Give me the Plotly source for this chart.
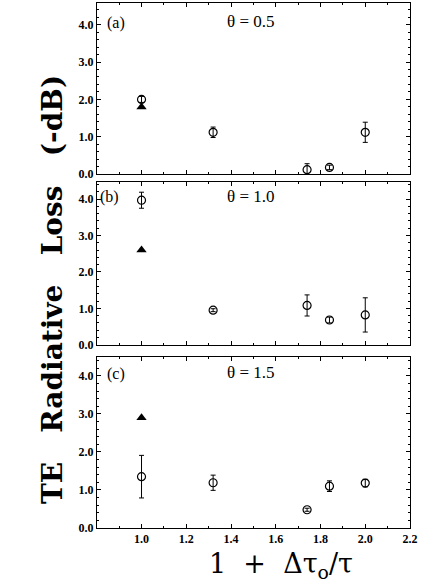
import plotly.graph_objects as go

# Data
x_vals = [1.0, 1.32, 1.74, 1.84, 2.0]
tri_x = [1.0]

a_y = [2.0, 1.12, 0.12, 0.18, 1.12]
a_err = [0.08, 0.14, 0.16, 0.06, 0.27]
a_tri = [1.8]

b_y = [3.97, 0.95, 1.08, 0.68, 0.82]
b_err = [0.22, 0.04, 0.29, 0.08, 0.47]
b_tri = [2.6]

c_y = [1.35, 1.19, 0.48, 1.1, 1.18]
c_err = [0.56, 0.2, 0.04, 0.14, 0.1]
c_tri = [2.9]

panel_labels = ["(a)", "(b)", "(c)"]
theta_labels = ["θ = 0.5", "θ = 1.0", "θ = 1.5"]

panels = [(a_y, a_err, a_tri), (b_y, b_err, b_tri), (c_y, c_err, c_tri)]
domains = [[0.674, 1.0], [0.349, 0.659], [0.0, 0.326]]
yranges = [[0, 4.58], [0, 4.47], [0, 4.5]]

fig = go.Figure()
serif = "Liberation Serif"
layout_axes = {}

for i, (ys, errs, tri) in enumerate(panels):
    n = i + 1
    xa = "x" if n == 1 else f"x{n}"
    ya = "y" if n == 1 else f"y{n}"
    fig.add_trace(go.Scatter(
        x=x_vals, y=ys, mode="markers", xaxis=xa, yaxis=ya,
        error_y=dict(type="data", array=errs, color="black", thickness=1, width=2.5),
        marker=dict(symbol="circle-open", size=8, color="black", line=dict(width=1.2, color="black")),
        showlegend=False))
    fig.add_trace(go.Scatter(
        x=tri_x, y=tri, mode="markers", xaxis=xa, yaxis=ya,
        marker=dict(symbol="triangle-up", size=9, color="black"),
        showlegend=False))
    axkw = dict(range=[0.801, 2.2], tickmode="linear", tick0=1.0, dtick=0.2,
                ticks="inside", ticklen=4, tickcolor="black", tickwidth=1,
                minor=dict(tickmode="linear", tick0=1.0, dtick=0.1, ticks="inside", ticklen=2,
                           tickcolor="black", tickwidth=1),
                showline=True, linecolor="black", linewidth=1, mirror="ticks",
                showgrid=False, zeroline=False,
                anchor=ya, domain=[0, 1],
                tickfont=dict(family=serif, size=12, color="black", weight="bold"),
                tickformat=".1f", showticklabels=(n == 3))
    yakw = dict(range=yranges[i], tickmode="linear", tick0=0, dtick=1, tickformat=".1f",
                ticks="inside", ticklen=4, tickcolor="black", tickwidth=1,
                minor=dict(tickmode="linear", tick0=0, dtick=0.2, ticks="inside", ticklen=2,
                           tickcolor="black", tickwidth=1),
                showline=True, linecolor="black", linewidth=1, mirror="ticks",
                showgrid=False, zeroline=False, domain=domains[i], anchor=xa,
                tickfont=dict(family=serif, size=12, color="black", weight="bold"))
    layout_axes["xaxis" if n == 1 else f"xaxis{n}"] = axkw
    layout_axes["yaxis" if n == 1 else f"yaxis{n}"] = yakw

    fig.add_annotation(x=0.835 if n != 2 else 0.805, y=4.05, xref=xa, yref=ya, text=panel_labels[i],
                       showarrow=False, xanchor="left", yanchor="middle",
                       font=dict(family=serif, size=16, color="black"))
    fig.add_annotation(x=1.486, y=4.08, xref=xa, yref=ya, text=theta_labels[i],
                       showarrow=False, xanchor="center", yanchor="middle",
                       font=dict(family=serif, size=17, color="black"))

fig.add_annotation(x=-0.144, y=0.455, xref="paper", yref="paper", xanchor="center", yanchor="middle",
                   text="TE   Radiative   Loss   (-dB)", textangle=-90, showarrow=False,
                   font=dict(family="DejaVu Serif", size=28, color="black", weight="bold"))
fig.add_annotation(x=0.589, y=-0.071, xref="paper", yref="paper", xanchor="center",
                   text="1  +  Δτ<sub>o</sub>/τ", showarrow=False, yanchor="middle",
                   font=dict(family="DejaVu Serif", size=27, color="black"))

fig.update_layout(width=422, height=585, margin=dict(l=97, r=12, t=3, b=57),
                  plot_bgcolor="white", paper_bgcolor="white", **layout_axes)

fig.write_html("out.html", config={"displayModeBar": False},
               post_script="document.body.style.margin='0';")
